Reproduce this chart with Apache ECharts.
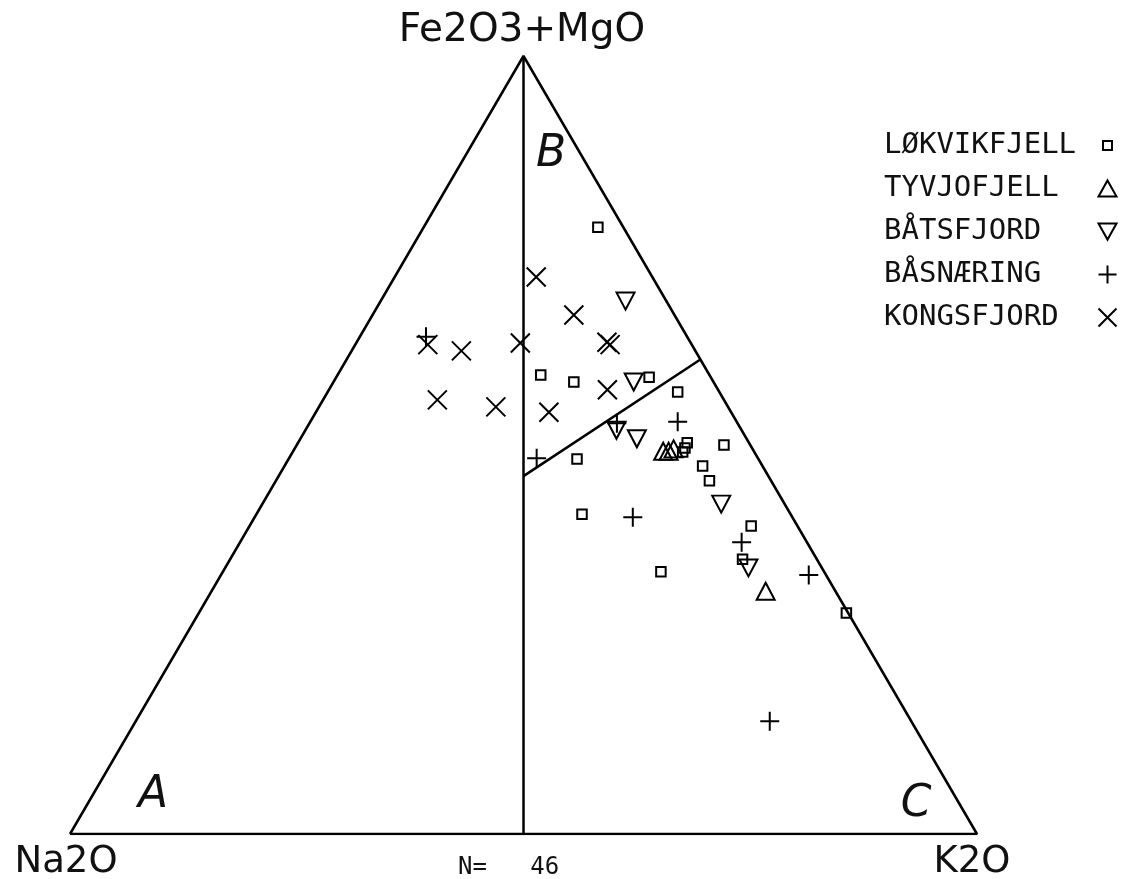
<!DOCTYPE html>
<html>
<head>
<meta charset="utf-8">
<script src="https://cdn.jsdelivr.net/npm/echarts@6/dist/echarts.min.js"></script>
<style>html,body{margin:0;padding:0;background:#fff}#c{width:1123px;height:879px}</style>
</head>
<body>
<div id="c"></div>
<script>
// Ternary compositions: [Na2O, K2O, Fe2O3+MgO] (percent)
const lokvikfjell = [
  [2.8,19.2,78.0],[18.6,22.4,59.0],[15.4,26.5,58.1],[6.8,34.5,58.7],[4.6,38.6,56.8],
  [20.0,31.8,48.2],[6.8,42.9,50.3],[7.4,43.0,49.6],[7.9,43.0,49.1],[2.9,47.1,50.0],
  [6.6,46.1,47.3],[6.8,47.8,45.4],[23.0,35.9,41.1],[5.1,55.3,39.6],[8.2,56.5,35.3],
  [18.0,48.3,33.7],[0.2,71.4,28.4]
];
const tyvjofjell = [
  [10.0,40.8,49.2],[9.4,41.4,49.2],[8.7,41.8,49.5],[7.7,61.1,31.2]
];
const batsfjord = [
  [4.5,27.0,68.5],[8.8,33.1,58.1],[13.8,34.3,51.9],[12.1,37.1,50.8],[7.0,50.6,42.4],[8.1,57.7,34.2]
];
const basnaering = [
  [28.8,7.3,63.9],[6.5,40.5,53.0],[13.3,33.9,52.8],[24.4,27.3,48.3],[17.6,41.7,40.7],
  [7.2,55.3,37.5],[1.9,64.8,33.3],[15.6,69.9,14.5]
];
const kongsfjord = [
  [12.8,15.6,71.6],[11.1,22.2,66.7],[9.2,27.6,63.2],[9.0,28.1,62.9],[18.8,18.1,63.1],
  [29.1,8.0,62.9],[25.8,12.1,62.1],[31.6,12.6,55.8],[25.6,19.5,54.9],[12.2,30.7,57.1],
  [20.1,25.7,54.2]
];
const seriesNames = ['LØKVIKFJELL','TYVJOFJELL','BÅTSFJORD','BÅSNÆRING','KONGSFJORD'];
const apexLabels = ['Na2O','K2O','Fe2O3+MgO'];
const fieldLabels = ['A','B','C'];
const countLabel = 'N=   46';
// Field boundaries (ternary)
const outline = [[100,0,0],[0,100,0],[0,0,100],[100,0,0]];
const divideAB_C = [[50,50,0],[0,0,100]];
const divideB_C = [[27,27,46],[0,39,61]];

function tern(p){
  const s = p[0]+p[1]+p[2];
  const k = p[1]/s*100, f = p[2]/s*100;
  return [k + f/2, f];
}
const sym = {
  rect: 'path://M0,0L0,0M20,20L20,20M5,5L15,5L15,15L5,15Z',
  up: 'path://M10,0L20,18L0,18Z',
  down: 'path://M0,0L20,0L10,18Z',
  plus: 'path://M0,10L20,10M10,0L10,20',
  cross: 'path://M0,0L20,20M20,0L0,20'
};
const sets = [
  {data: lokvikfjell, symbol: sym.rect, size: 19},
  {data: tyvjofjell, symbol: sym.up, size: [18,17]},
  {data: batsfjord, symbol: sym.down, size: [18,17]},
  {data: basnaering, symbol: sym.plus, size: 19},
  {data: kongsfjord, symbol: sym.cross, size: 19}
];
const lineStyle = {color:'#000', width:2.5};
function lineSeries(pts){
  return {type:'line', data: pts.map(tern), symbol:'none', silent:true, lineStyle, z:1, animation:false};
}
const series = [lineSeries(outline), lineSeries(divideAB_C), lineSeries(divideB_C)];
sets.forEach((s,i)=>{
  series.push({
    type:'scatter', name: seriesNames[i], data: s.data.map(tern),
    symbol: s.symbol, symbolSize: s.size, z:3, animation:false, clip:false,
    itemStyle:{color:'none', borderColor:'#000', borderWidth:2, opacity:1}
  });
});

const chart = echarts.init(document.getElementById('c'), null, {renderer:'canvas'});
const fontSans = '"DejaVu Sans", sans-serif';
chart.setOption({
  backgroundColor:'#fff',
  animation:false,
  grid:{left:70, top:56, width:907, height:778},
  xAxis:{type:'value', min:0, max:100, show:false},
  yAxis:{type:'value', min:0, max:100, show:false},
  legend:{
    data: seriesNames, orient:'vertical', left:884, top:131, align:'right',
    padding:0, itemGap:14, itemWidth:18, itemHeight:18, selectedMode:false,
    formatter: n => n.padEnd(12, ' '),
    itemStyle:{color:'none', borderColor:'#000', borderWidth:2},
    textStyle:{fontFamily:'"DejaVu Sans Mono", monospace', fontSize:29, lineHeight:29, color:'#111'}
  },
  graphic:[
    {type:'text', x:522, y:31, style:{text:apexLabels[2], font:'39px '+fontSans, fill:'#111', align:'center', verticalAlign:'middle'}},
    {type:'text', x:66, y:862, style:{text:apexLabels[0], font:'37px '+fontSans, fill:'#111', align:'center', verticalAlign:'middle'}},
    {type:'text', x:972, y:862, style:{text:apexLabels[1], font:'37px '+fontSans, fill:'#111', align:'center', verticalAlign:'middle'}},
    {type:'text', x:458, y:868, style:{text:countLabel, font:'24px "DejaVu Sans Mono", monospace', fill:'#111', align:'left', verticalAlign:'middle'}},
    {type:'text', x:153, y:796, style:{text:fieldLabels[0], font:'italic 44px '+fontSans, fill:'#111', align:'center', verticalAlign:'middle'}},
    {type:'text', x:551, y:155, style:{text:fieldLabels[1], font:'italic 44px '+fontSans, fill:'#111', align:'center', verticalAlign:'middle'}},
    {type:'text', x:916, y:805, style:{text:fieldLabels[2], font:'italic 44px '+fontSans, fill:'#111', align:'center', verticalAlign:'middle'}}
  ],
  series
});
</script>
</body>
</html>
